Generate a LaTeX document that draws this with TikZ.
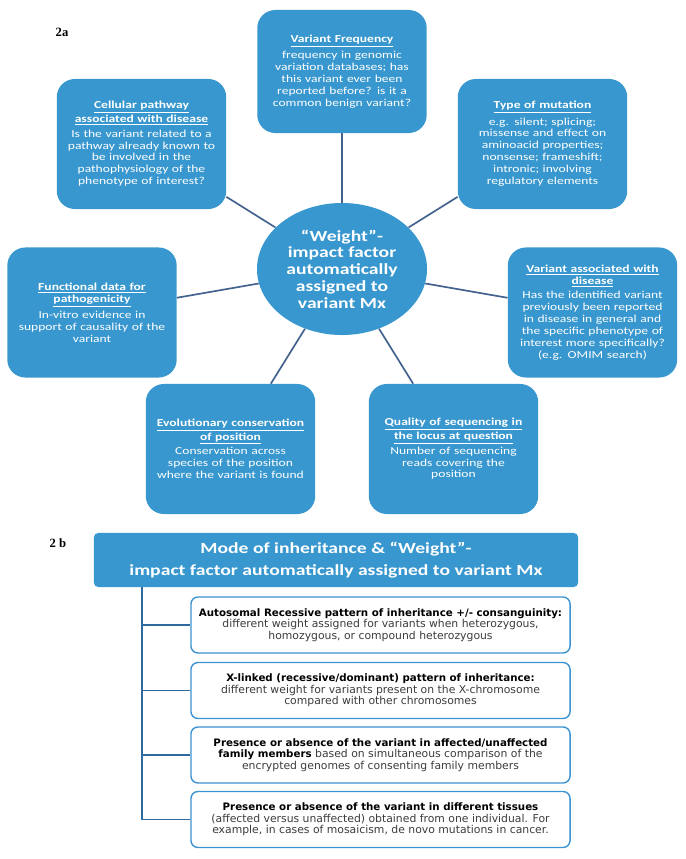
\documentclass[tikz,border=0pt]{standalone}
\usepackage{fontspec}
\usetikzlibrary{shapes.geometric}
\setmainfont{Carlito}
\newfontfamily\widefont{Carlito}[FakeStretch=1.27]
\newfontfamily\casefont{DejaVu Sans}
\newfontfamily\figfont{Liberation Serif}
\definecolor{hubblue}{RGB}{56,151,206}
\definecolor{spokeline}{RGB}{68,98,142}
\definecolor{trunkblue}{RGB}{46,106,160}
\definecolor{caseline}{RGB}{58,146,210}
\definecolor{casetext}{RGB}{60,60,60}
\newcommand{\keyterm}[1]{{\fontsize{7.3}{8.3}\selectfont\textbf{\color{black}#1}}}
\newcommand{\boxtitle}[1]{\underline{\textbf{#1}}}

\begin{document}
\begin{tikzpicture}[x=0.025cm,y=-0.025cm,
    spokebox/.style={fill=hubblue, rounded corners=0.45cm, minimum width=4.18cm,
        minimum height=3.25cm, text width=4cm, align=center, text=white,
        font=\widefont\fontsize{7.6}{8.5}\selectfont},
    hub/.style={ellipse, fill=hubblue, minimum width=4.25cm, minimum height=3.3cm,
        inner sep=0pt, align=center, text=white,
        font=\widefont\bfseries\fontsize{11}{11.9}\selectfont},
    spoke/.style={draw=spokeline, line width=1.2pt},
    modebox/.style={fill=hubblue, rounded corners=3pt, minimum width=12.1cm,
        minimum height=1.35cm, align=center, text=white,
        font=\widefont\bfseries\fontsize{11}{15.6}\selectfont},
    casebox/.style={draw=caseline, line width=1pt, fill=white, rounded corners=5pt,
        minimum width=9.475cm, minimum height=1.4cm, align=center, text=casetext,
        font=\casefont\fontsize{7.7}{8.3}\selectfont},
    trunk/.style={draw=trunkblue, line width=1.4pt},
    figlabel/.style={font=\figfont\bfseries\fontsize{9}{11}\selectfont}]
    \useasboundingbox (0,0) rectangle (685,859);

    % 2a
    \node[figlabel] (lbla) at (62,32) {2a};

    \node[hub] (hub) at (342,269) {“Weight”-\\impact factor\\automatically\\assigned to\\variant Mx};

    \node[spokebox, minimum height=3.075cm] (freq) at (342,71.5) {\boxtitle{Variant Frequency}\\[3pt]
        frequency in genomic\\variation databases; has\\this variant ever been\\reported before? is it a\\common benign variant?};
    \node[spokebox] (path) at (141.5,144) {\boxtitle{Cellular pathway}\\\boxtitle{associated with disease}\\[2pt]
        Is the variant related to a\\pathway already known to\\be involved in the\\pathophysiology of the\\phenotype of interest?};
    \node[spokebox] (mut) at (542.5,144) {\boxtitle{Type of mutation}\\[3pt]
        e.g. silent; splicing;\\missense and effect on\\aminoacid properties;\\nonsense; frameshift;\\intronic; involving\\regulatory elements};
    \node[spokebox] (func) at (92,312.5) {\boxtitle{Functional data for}\\\boxtitle{pathogenicity}\\[2pt]
        In-vitro evidence in\\support of causality of the\\variant};
    \node[spokebox] (assoc) at (592.5,312.5) {\boxtitle{Variant associated with}\\\boxtitle{disease}\\[2pt]
        Has the identified variant\\previously been reported\\in disease in general and\\the specific phenotype of\\interest more specifically?\\(e.g. OMIM search)};
    \node[spokebox] (evol) at (230.5,449) {\boxtitle{Evolutionary conservation}\\\boxtitle{of position}\\[2pt]
        Conservation across\\species of the position\\where the variant is found};
    \node[spokebox] (qual) at (453.5,449) {\boxtitle{Quality of sequencing in}\\\boxtitle{the locus at question}\\[2pt]
        Number of sequencing\\reads covering the\\position};

    \foreach \b in {freq,path,mut,func,assoc,evol,qual}
        \draw[spoke] (hub) -- (\b);

    % 2b
    \node[figlabel] (lblb) at (58,543) {2 b};

    \node[modebox] (mode) at (336,560) {Mode of inheritance \& “Weight”-\\impact factor automatically assigned to variant Mx};

    \node[casebox] (case1) at (380.5,625) {\keyterm{Autosomal Recessive pattern of inheritance +/- consanguinity:}\\
        different weight assigned for variants when heterozygous,\\homozygous, or compound heterozygous};
    \node[casebox] (case2) at (380.5,690.5) {\keyterm{X-linked (recessive/dominant) pattern of inheritance:}\\
        different weight for variants present on the X-chromosome\\compared with other chromosomes};
    \node[casebox] (case3) at (380.5,755) {\keyterm{Presence or absence of the variant in affected/unaffected}\\
        \keyterm{family members} based on simultaneous comparison of the\\encrypted genomes of consenting family members};
    \node[casebox] (case4) at (380.5,819.5) {\keyterm{Presence or absence of the variant in different tissues}\\
        (affected versus unaffected) obtained from one individual. For\\example, in cases of mosaicism, de novo mutations in cancer.};

    \coordinate (trunkend) at (142,819.5);
    \draw[trunk] (mode.south -| trunkend) -- (trunkend);
    \foreach \c in {case1,case2,case3,case4}
        \draw[trunk] (\c.west -| trunkend) -- (\c.west);
\end{tikzpicture}
\end{document}
